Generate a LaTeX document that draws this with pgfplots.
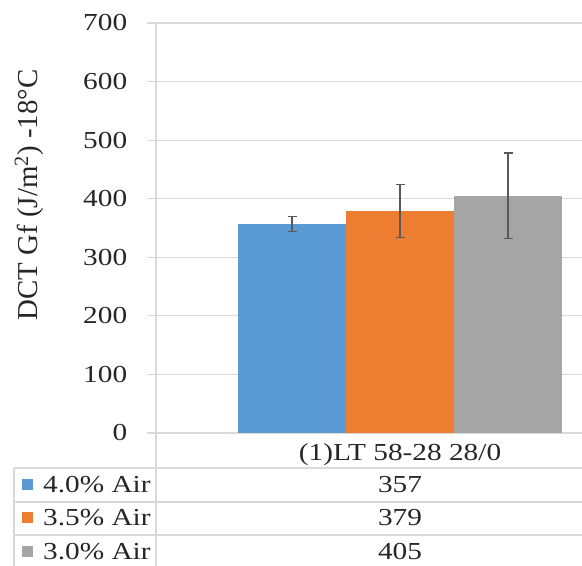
\documentclass[border=0pt]{standalone}
\usepackage{pgfplots}
\pgfplotsset{compat=1.18}
\usepackage{fontspec}
\setmainfont{Liberation Serif}
\definecolor{cblue}{HTML}{5B9BD5}
\definecolor{corange}{HTML}{ED7D31}
\definecolor{cgray}{HTML}{A5A5A5}
\definecolor{gridc}{HTML}{D9D9D9}
\definecolor{txt}{HTML}{262626}
\definecolor{errc}{HTML}{595959}
\newcommand{\fs}{\fontsize{24.5}{28}\selectfont}
\begin{document}
\begin{tikzpicture}[x=1bp,y=1bp]
\path[use as bounding box] (0,0) rectangle (582,566);
\clip (0,0) rectangle (582,566);
\begin{axis}[
  at={(156bp,133bp)}, anchor=south west,
  scale only axis, width=488bp, height=410bp,
  xmin=0, xmax=1, ymin=0, ymax=700,
  axis line style={draw=none},
  ytick={0,100,...,700},
  tick align=outside, major tick length=9bp,
  ytick style={gridc, line width=1.2bp},
  xtick style={draw=none},
  ymajorgrids, grid style={gridc, line width=1.2bp},
  ybar=0pt, bar width=108bp,
  tick label style={font=\fs, text=txt, xscale=1.2},
  /pgf/number format/assume math mode=true,
  yticklabel style={anchor=east, xshift=-13bp},
  xtick={0.5}, xticklabels={(1)LT 58-28 28/0},
  xticklabel style={yshift=2bp},
  error bars/error bar style={errc, line width=1.1bp},
  error bars/error mark options={rotate=90, mark size=4.5bp, errc, line width=1.1bp},
]
\addplot[fill=cblue, draw=none, error bars/.cd, y dir=both, y explicit] coordinates {(0.5,357) +- (0,13)};
\addplot[fill=corange, draw=none, error bars/.cd, y dir=both, y explicit] coordinates {(0.5,379) +- (0,45)};
\addplot[fill=cgray, draw=none, error bars/.cd, y dir=both, y explicit] coordinates {(0.5,405) +- (0,73)};
\end{axis}
\draw[gridc, line width=1.2bp] (156,543) -- (156,0);
\draw[gridc, line width=1.2bp] (14,98) -- (582,98);
\draw[gridc, line width=1.2bp] (14,64) -- (582,64);
\draw[gridc, line width=1.2bp] (14,31) -- (582,31);
\draw[gridc, line width=1.2bp] (14,98) -- (14,0);
\node[rotate=90, font=\fontsize{29}{32}\selectfont, text=txt] at (29,371) {DCT Gf (J/m\textsuperscript{2}) -18°C};
\fill[cblue] (22,76) rectangle (33,87);
\fill[corange] (22,43) rectangle (33,54);
\fill[cgray] (22,9) rectangle (33,20);
\node[anchor=west, font=\fs, text=txt, inner sep=0pt, xscale=1.2] at (43,81) {4.0\% Air};
\node[anchor=west, font=\fs, text=txt, inner sep=0pt, xscale=1.2] at (43,48) {3.5\% Air};
\node[anchor=west, font=\fs, text=txt, inner sep=0pt, xscale=1.2] at (43,14) {3.0\% Air};
\node[font=\fs, text=txt, xscale=1.2] at (400,81) {357};
\node[font=\fs, text=txt, xscale=1.2] at (400,48) {379};
\node[font=\fs, text=txt, xscale=1.2] at (400,14) {405};
\end{tikzpicture}
\end{document}
